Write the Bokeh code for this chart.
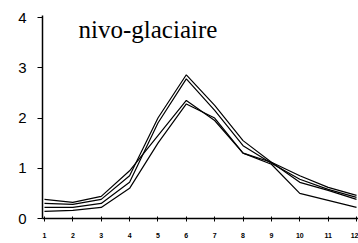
from bokeh.plotting import figure
from bokeh.models import Range1d, FixedTicker, Label
from bokeh.embed import file_html
from bokeh.resources import INLINE

months = [1, 2, 3, 4, 5, 6, 7, 8, 9, 10, 11, 12]
serie_a = [0.30, 0.28, 0.38, 0.85, 2.00, 2.86, 2.25, 1.55, 1.12, 0.85, 0.62, 0.46]
serie_b = [0.22, 0.22, 0.30, 0.72, 1.90, 2.78, 2.15, 1.45, 1.10, 0.78, 0.58, 0.42]
serie_c = [0.38, 0.32, 0.44, 0.95, 1.65, 2.35, 1.95, 1.30, 1.12, 0.72, 0.56, 0.38]
serie_d = [0.14, 0.16, 0.22, 0.60, 1.50, 2.28, 2.00, 1.30, 1.08, 0.50, 0.36, 0.22]
y_ticks = [0, 1, 2, 3, 4]
title_text = "nivo-glaciaire"

p = figure(width=358, height=243, output_backend="svg", toolbar_location=None,
           x_range=Range1d(0.93, 12.07), y_range=Range1d(0, 4.04),
           min_border_left=42, min_border_right=0, min_border_top=15, min_border_bottom=25)
p.outline_line_color = None
p.xgrid.visible = False
p.ygrid.visible = False
p.border_fill_color = "#ffffff"
p.background_fill_color = "#ffffff"

for s in (serie_a, serie_b, serie_c, serie_d):
    p.line(months, s, line_color="black", line_width=1.2)

p.xaxis.ticker = FixedTicker(ticks=months)
p.xaxis.minor_tick_line_color = None
p.xaxis.major_tick_in = 2
p.xaxis.major_tick_out = 3
p.xaxis.major_label_text_font = "Liberation Sans"
p.xaxis.major_label_text_font_size = "7px"
p.xaxis.major_label_text_font_style = "bold"
p.xaxis.major_label_text_color = "black"
p.xaxis.major_label_standoff = 11
p.xaxis.axis_line_color = "black"
p.xaxis.axis_line_width = 1.5

p.yaxis.ticker = FixedTicker(ticks=y_ticks)
p.yaxis.minor_tick_line_color = None
p.yaxis.major_tick_in = 0
p.yaxis.major_tick_out = 5
p.yaxis.major_label_text_font = "Liberation Sans"
p.yaxis.major_label_text_font_size = "15px"
p.yaxis.major_label_text_color = "black"
p.yaxis.major_label_standoff = 11
p.yaxis.axis_line_color = "black"
p.yaxis.axis_line_width = 1.5

p.add_layout(Label(x=2.2, y=3.76, text=title_text, text_font="serif",
                   text_font_size="25px", text_baseline="middle",
                   text_color="black"))

open("out.html", "w").write(file_html(p, INLINE))
